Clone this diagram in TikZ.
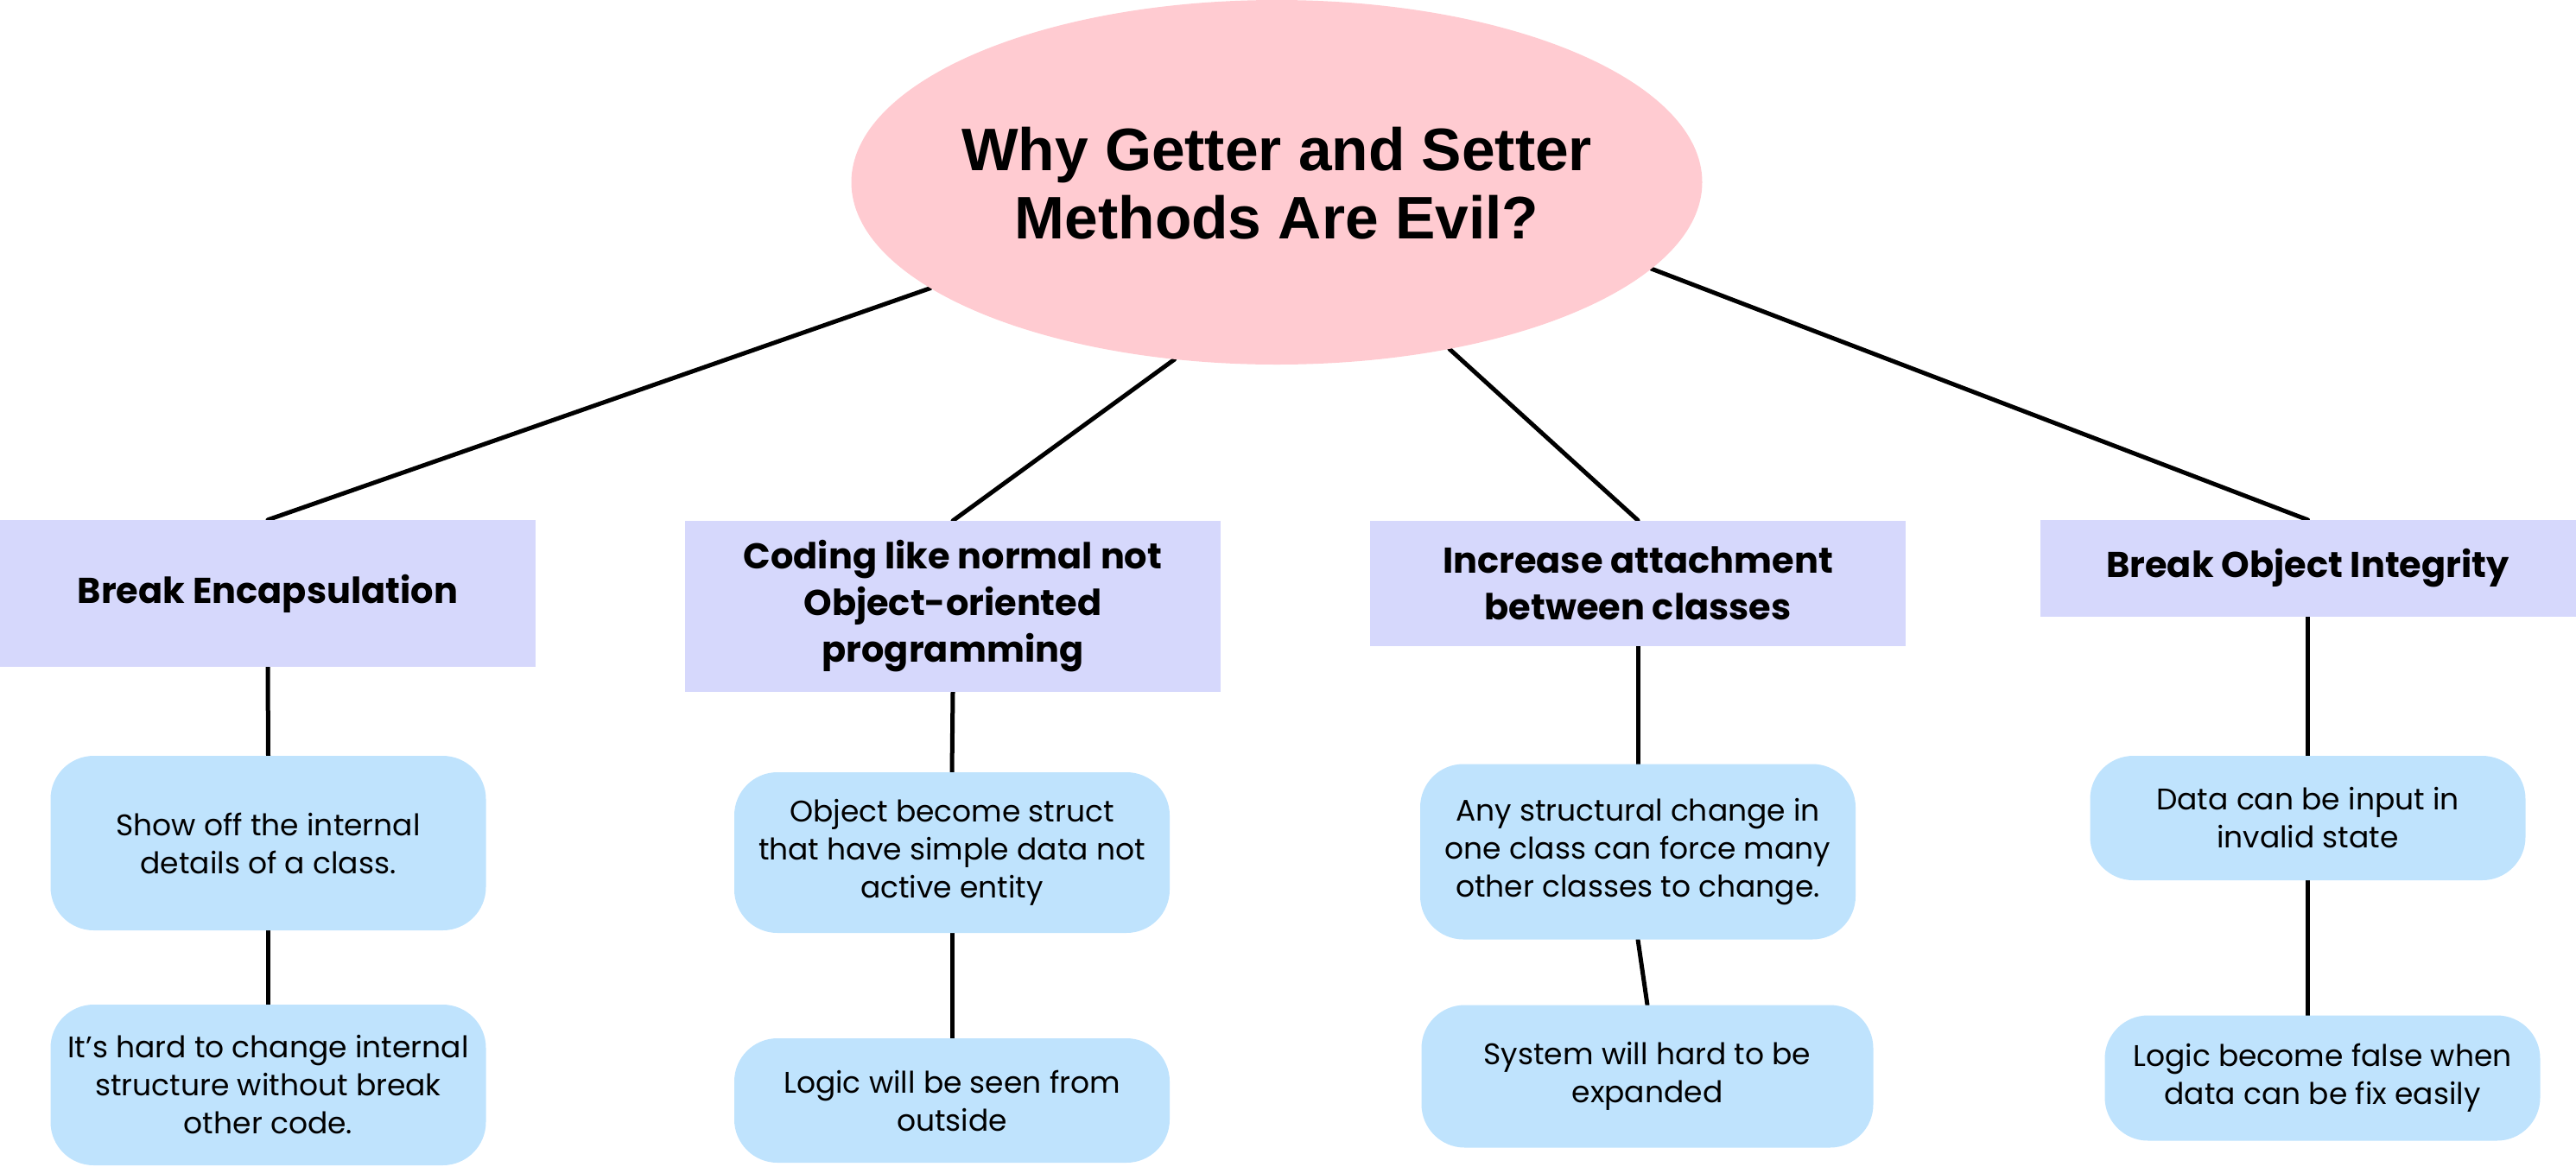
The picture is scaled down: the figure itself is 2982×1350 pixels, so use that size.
\documentclass[tikz,border=0pt]{standalone}
\usepackage{fontspec}
\setmainfont{Poppins}
\newfontfamily\titlef{Liberation Sans}
\usetikzlibrary{shapes.geometric,backgrounds}
\definecolor{pinkc}{RGB}{255,203,209}
\definecolor{lavc}{RGB}{214,216,252}
\definecolor{bluec}{RGB}{191,227,253}
\tikzset{
  headbox/.style={rectangle, fill=lavc, inner sep=0pt, minimum width=620pt, align=center,
    font=\bfseries\fontsize{41.5}{54}\selectfont},
  itembox/.style={rectangle, rounded corners=50pt, fill=bluec, inner sep=0pt, minimum width=504pt, align=center,
    font=\fontsize{34.5}{44}\selectfont},
  conn/.style={line width=5pt, black, line cap=round}
}
\begin{document}
\begin{tikzpicture}[x=1pt,y=-1pt]
\useasboundingbox (0,0) rectangle (2982,1350);
% root
\node[ellipse, fill=pinkc, minimum width=985pt, minimum height=422pt, inner sep=0pt] (root) at (1478,211) {};
\node[align=center, inner sep=0pt, font=\titlef\bfseries\fontsize{69.5}{79}\selectfont] (title) at (1478,212)
  {Why Getter and Setter\\Methods Are Evil?};
% level 1
\node[headbox, minimum height=170pt] (b1) at (310,687) {Break Encapsulation};
\node[headbox, minimum height=198pt] (b2) at (1103,702) {Coding like normal not\\Object-oriented\\programming};
\node[headbox, minimum height=145pt] (b3) at (1896,675) {Increase attachment\\between classes};
\node[headbox, minimum height=112pt] (b4) at (2671.5,658) {Break Object Integrity};
% level 2
\node[itembox, minimum height=202pt] (c1) at (310.5,976) {Show off the internal\\details of a class.};
\node[itembox, minimum height=186pt] (c2) at (1102,987) {Object become struct\\that have simple data not\\active entity};
\node[itembox, minimum height=203pt] (c3) at (1896,986) {Any structural change in\\one class can force many\\other classes to change.};
\node[itembox, minimum height=144pt] (c4) at (2671.5,947) {Data can be input in\\invalid state};
% level 3
\node[itembox, minimum height=186pt] (d1) at (310.5,1256) {It’s hard to change internal\\structure without break\\other code.};
\node[itembox, minimum height=144pt] (d2) at (1102,1274) {Logic will be seen from\\outside};
\node[itembox, minimum height=165pt, minimum width=523pt] (d3) at (1907,1246) {System will hard to be\\expanded};
\node[itembox, minimum height=145pt] (d4) at (2688.5,1248) {Logic become false when\\data can be fix easily};
% connectors
\begin{scope}[on background layer]
\draw[conn] (root.197.5) -- (b1.north);
\draw[conn] (root.240.5) -- (b2.north);
\draw[conn] (root.316.6) -- (b3.north);
\draw[conn] (root.347.8) -- (b4.north);
\draw[conn] (b1.south) -- (c1.north);
\draw[conn] (c1.south) -- (d1.north);
\draw[conn] (b2.south) -- (c2.north);
\draw[conn] (c2.south) -- (d2.north);
\draw[conn] (b3.south) -- (c3.north);
\draw[conn] (c3.south) -- (d3.north);
\draw[conn] (b4.south) -- (c4.north);
\draw[conn] (c4.south) -- (c4.south |- d4.north);
\end{scope}
\end{tikzpicture}
\end{document}
